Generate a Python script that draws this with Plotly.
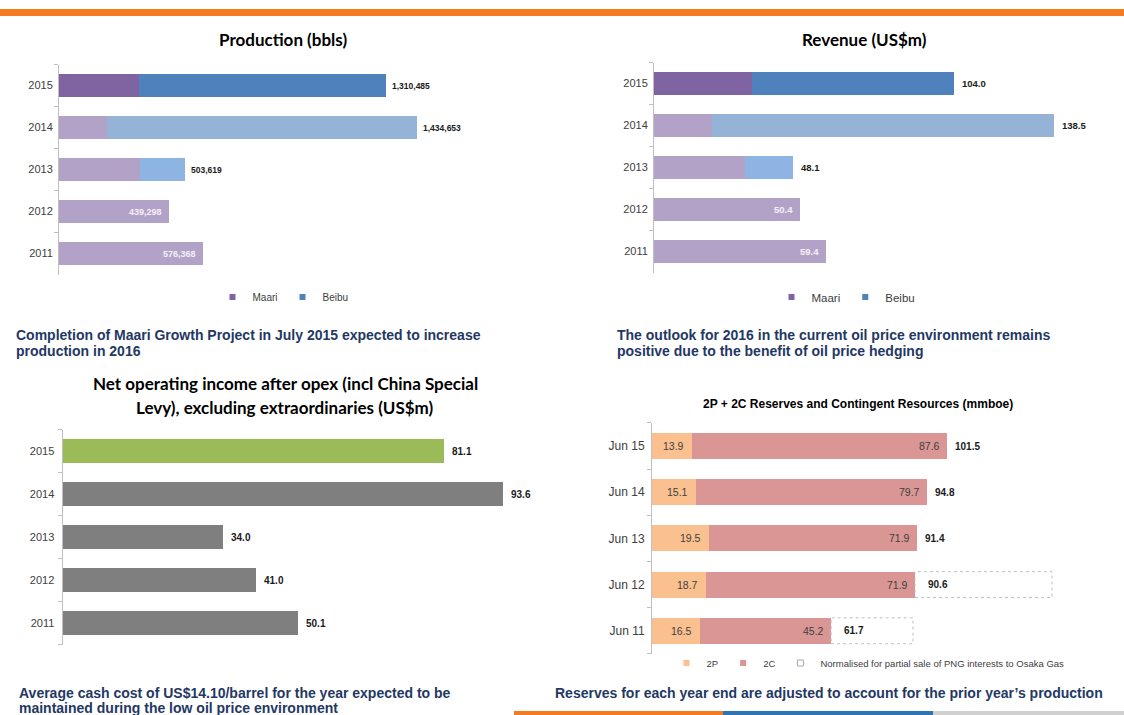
import plotly.graph_objects as go

W, H = 1124, 715

# ---------------- data ----------------
years = ['2011', '2012', '2013', '2014', '2015']
prod_total = [576368, 439298, 503619, 1434653, 1310485]
prod_maari = [576368, 439298, 323000, 191000, 319500]
rev_total = [59.4, 50.4, 48.1, 138.5, 104.0]
rev_maari = [59.4, 50.4, 31.5, 20.0, 33.8]
noi_values = [50.1, 41.0, 34.0, 93.6, 81.1]
res_periods = ['Jun 11', 'Jun 12', 'Jun 13', 'Jun 14', 'Jun 15']
res_2p = [16.5, 18.7, 19.5, 15.1, 13.9]
res_2c = [45.2, 71.9, 71.9, 79.7, 87.6]
res_total = [61.7, 90.6, 91.4, 94.8, 101.5]
res_normalised = [89.9, 137.8, None, None, None]

prod_beibu = [t - m for t, m in zip(prod_total, prod_maari)]
rev_beibu = [round(t - m, 1) for t, m in zip(rev_total, rev_maari)]

# ---------------- styles ----------------
MAARI_OLD, MAARI_NEW = '#B3A2C7', '#8064A2'
BEIBU_OLD, BEIBU_13, BEIBU_NEW = '#95B3D7', '#8DB4E2', '#4F81BD'
maari_cols = [MAARI_OLD] * 4 + [MAARI_NEW]
beibu_cols = [BEIBU_OLD, BEIBU_OLD, BEIBU_13, BEIBU_OLD, BEIBU_NEW]
noi_cols = ['#7F7F7F'] * 4 + ['#9BBB59']
C2P, C2C = '#FAC090', '#D99694'
AXC = '#BFBFBF'
TXT = '#404040'
ARIAL = 'Liberation Sans, Arial, sans-serif'
NARROW = 'Liberation Sans Narrow, Arial Narrow, Liberation Sans, Arial, sans-serif'
TITLEF = 'Lato, Carlito, Calibri, sans-serif'
CAPC = '#1F3864'


def fx(p):
    return p / W


def fy(p):
    return 1 - p / H


def ydom(center_top, spacing, n=5):
    top = center_top - spacing / 2
    bot = center_top + spacing * (n - 0.5)
    return [fy(bot), fy(top)]


fig = go.Figure()

# ---- panel 1: production ----
fig.add_trace(go.Bar(x=prod_maari, y=years, orientation='h', marker=dict(color=maari_cols, line_width=0),
                     width=0.57, xaxis='x', yaxis='y', showlegend=False))
fig.add_trace(go.Bar(x=prod_beibu, y=years, orientation='h', marker=dict(color=beibu_cols, line_width=0),
                     width=0.57, xaxis='x', yaxis='y', showlegend=False))
fig.add_trace(go.Scatter(x=[None], y=[None], mode='markers', name='Maari', xaxis='x', yaxis='y',
                         marker=dict(symbol='square', size=6, color=MAARI_NEW), legend='legend'))
fig.add_trace(go.Scatter(x=[None], y=[None], mode='markers', name='Beibu', xaxis='x', yaxis='y',
                         marker=dict(symbol='square', size=6, color=BEIBU_NEW), legend='legend'))

# ---- panel 2: revenue ----
fig.add_trace(go.Bar(x=rev_maari, y=years, orientation='h', marker=dict(color=maari_cols, line_width=0),
                     width=0.555, xaxis='x2', yaxis='y2', showlegend=False))
fig.add_trace(go.Bar(x=rev_beibu, y=years, orientation='h', marker=dict(color=beibu_cols, line_width=0),
                     width=0.555, xaxis='x2', yaxis='y2', showlegend=False))
fig.add_trace(go.Scatter(x=[None], y=[None], mode='markers', name='Maari', xaxis='x2', yaxis='y2',
                         marker=dict(symbol='square', size=6, color=MAARI_NEW), legend='legend2'))
fig.add_trace(go.Scatter(x=[None], y=[None], mode='markers', name='Beibu', xaxis='x2', yaxis='y2',
                         marker=dict(symbol='square', size=6, color=BEIBU_NEW), legend='legend2'))

# ---- panel 3: net operating income ----
fig.add_trace(go.Bar(x=noi_values, y=years, orientation='h', marker=dict(color=noi_cols, line_width=0),
                     width=0.58, xaxis='x3', yaxis='y3', showlegend=False))

# ---- panel 4: reserves ----
fig.add_trace(go.Bar(x=res_2p, y=res_periods, orientation='h', marker=dict(color=C2P, line_width=0),
                     width=0.56, xaxis='x4', yaxis='y4', showlegend=False))
fig.add_trace(go.Bar(x=res_2c, y=res_periods, orientation='h', marker=dict(color=C2C, line_width=0),
                     width=0.56, xaxis='x4', yaxis='y4', showlegend=False))
fig.add_trace(go.Scatter(x=[None], y=[None], mode='markers', name='2P', xaxis='x4', yaxis='y4',
                         marker=dict(symbol='square', size=6, color=C2P), legend='legend3'))
fig.add_trace(go.Scatter(x=[None], y=[None], mode='markers', name='2C', xaxis='x4', yaxis='y4',
                         marker=dict(symbol='square', size=6, color=C2C), legend='legend3'))
fig.add_trace(go.Scatter(x=[None], y=[None], mode='markers',
                         name='Normalised for partial sale of PNG interests to Osaka Gas', xaxis='x4', yaxis='y4',
                         marker=dict(symbol='square-open', size=6, color='#A6A6A6', line=dict(width=1)),
                         legend='legend3'))

shapes = []
annotations = []

# dashed normalised boxes
for i, n in enumerate(res_normalised):
    if n is not None:
        shapes.append(dict(type='rect', xref='x4', yref='y4', x0=res_total[i], x1=n, y0=i - 0.28, y1=i + 0.28,
                           line=dict(color='#BFBFBF', width=1, dash='dot'), fillcolor='rgba(0,0,0,0)'))

# value labels (y given as category index)
for i, y in enumerate(years):
    # production
    inside = prod_beibu[i] == 0
    annotations.append(dict(x=prod_total[i], y=i, xref='x', yref='y', text=f'<b>{prod_total[i]:,}</b>',
                            showarrow=False, xanchor='right' if inside else 'left', xshift=-5 if inside else 4,
                            font=dict(family=ARIAL, size=8.5 if not inside else 9,
                                      color='#F4F0F8' if inside else '#1A1A1A')))
    # revenue
    inside = rev_beibu[i] == 0
    annotations.append(dict(x=rev_total[i], y=i, xref='x2', yref='y2', text=f'<b>{rev_total[i]:.1f}</b>',
                            showarrow=False, xanchor='right' if inside else 'left', xshift=-5 if inside else 6,
                            font=dict(family=ARIAL, size=9.5,
                                      color='#F4F0F8' if inside else '#1A1A1A')))
    # net operating income
    annotations.append(dict(x=noi_values[i], y=i, xref='x3', yref='y3', text=f'<b>{noi_values[i]:.1f}</b>',
                            showarrow=False, xanchor='left', xshift=6,
                            font=dict(family=ARIAL, size=10, color='#1A1A1A')))

for i, p in enumerate(res_periods):
    annotations.append(dict(x=res_2p[i], y=i, xref='x4', yref='y4', text=f'{res_2p[i]:.1f}',
                            showarrow=False, xanchor='right', xshift=-6,
                            font=dict(family=ARIAL, size=10.5, color=TXT)))
    annotations.append(dict(x=res_total[i], y=i, xref='x4', yref='y4', text=f'{res_2c[i]:.1f}',
                            showarrow=False, xanchor='right', xshift=-5,
                            font=dict(family=ARIAL, size=10.5, color=TXT)))
    boxed = res_normalised[i] is not None
    annotations.append(dict(x=res_total[i], y=i, xref='x4', yref='y4', text=f'<b>{res_total[i]:.1f}</b>',
                            showarrow=False, xanchor='left', xshift=11 if boxed else 6,
                            font=dict(family=ARIAL, size=10, color='#1A1A1A')))


def paper_text(x, y, text, size, family, color, xanchor='center', bold=True):
    annotations.append(dict(x=fx(x), y=fy(y), xref='paper', yref='paper', text=f'<b>{text}</b>' if bold else text,
                            showarrow=False, xanchor=xanchor, yanchor='middle',
                            font=dict(family=family, size=size, color=color)))


# titles
paper_text(283, 40, 'Production (bbls)', 17, TITLEF, '#000000')
paper_text(864, 40, 'Revenue (US$m)', 17, TITLEF, '#000000')
paper_text(285, 383, 'Net operating income after opex (incl China Special', 17, TITLEF, '#000000')
paper_text(285, 408, 'Levy), excluding extraordinaries (US$m)', 17, TITLEF, '#000000')
paper_text(858, 404, '2P + 2C Reserves and Contingent Resources (mmboe)', 12, ARIAL, '#000000')

# captions
CS = 14
paper_text(14, 335, 'Completion of Maari Growth Project in July 2015 expected to increase', CS, NARROW, CAPC, 'left')
paper_text(14, 351, 'production in 2016', CS, NARROW, CAPC, 'left')
paper_text(615, 335, 'The outlook for 2016 in the current oil price environment remains', CS, NARROW, CAPC, 'left')
paper_text(615, 351, 'positive due to the benefit of oil price hedging', CS, NARROW, CAPC, 'left')
paper_text(17, 693, 'Average cash cost of US$14.10/barrel for the year expected to be', CS, NARROW, CAPC, 'left')
paper_text(17, 708, 'maintained during the low oil price environment', CS, NARROW, CAPC, 'left')
paper_text(553, 693, "Reserves for each year end are adjusted to account for the prior year\u2019s production", CS, NARROW,
           CAPC, 'left')

# decorative bands
shapes.append(dict(type='rect', xref='paper', yref='paper', x0=0, x1=1, y0=fy(16), y1=fy(9),
                   fillcolor='#F47B20', line_width=0, layer='below'))
shapes.append(dict(type='rect', xref='paper', yref='paper', x0=fx(514), x1=fx(723), y0=0, y1=fy(711),
                   fillcolor='#F47B20', line_width=0, layer='below'))
shapes.append(dict(type='rect', xref='paper', yref='paper', x0=fx(723), x1=fx(933), y0=0, y1=fy(711),
                   fillcolor='#2E75B6', line_width=0, layer='below'))
shapes.append(dict(type='rect', xref='paper', yref='paper', x0=fx(933), x1=1, y0=0, y1=fy(711),
                   fillcolor='#D0D0D0', line_width=0, layer='below'))


def xaxis(x0, x1, scale):
    return dict(domain=[fx(x0), fx(x1)], range=[0, (x1 - x0) / scale], visible=False, fixedrange=True)


def yaxis(anchor, dom, cats, size, standoff):
    return dict(anchor=anchor, domain=dom, type='category', categoryorder='array', categoryarray=cats,
                range=[-0.5, len(cats) - 0.5], autorange=False, showline=True, linecolor=AXC, linewidth=1,
                ticks='outside', tickson='boundaries', ticklen=4, tickcolor=AXC, showgrid=False,
                tickfont=dict(family=ARIAL, size=size, color=TXT), ticklabelstandoff=standoff, fixedrange=True)


legend_common = dict(orientation='h', yanchor='middle', xanchor='center', bgcolor='rgba(0,0,0,0)',
                     itemwidth=30, tracegroupgap=0, traceorder='normal')

fig.update_layout(
    width=W, height=H, margin=dict(l=0, r=0, t=0, b=0), paper_bgcolor='white', plot_bgcolor='white',
    barmode='stack', showlegend=True,
    xaxis=dict(anchor='y', **xaxis(59, 560, 357.7 / 1434653)),
    yaxis=yaxis('x', ydom(85.5, 42), years, 11, 3),
    xaxis2=dict(anchor='y2', **xaxis(654, 1120, 400 / 138.5)),
    yaxis2=yaxis('x2', ydom(83.5, 42), years, 11, 3),
    xaxis3=dict(anchor='y3', **xaxis(62.5, 560, 440.7 / 93.6)),
    yaxis3=yaxis('x3', ydom(451, 43), years, 11, 5),
    xaxis4=dict(anchor='y4', **xaxis(652, 1120, 263 / 90.6)),
    yaxis4=yaxis('x4', ydom(446, 46.2), res_periods, 12, 4),
    legend=dict(x=fx(283), y=fy(297), font=dict(family=ARIAL, size=10, color=TXT), **legend_common),
    legend2=dict(x=fx(846), y=fy(297), font=dict(family=ARIAL, size=11.5, color=TXT), **legend_common),
    legend3=dict(x=fx(868), y=fy(663), font=dict(family=NARROW, size=9.5, color=TXT), **legend_common),
    shapes=shapes, annotations=annotations,
)

fig.write_html('out.html')
